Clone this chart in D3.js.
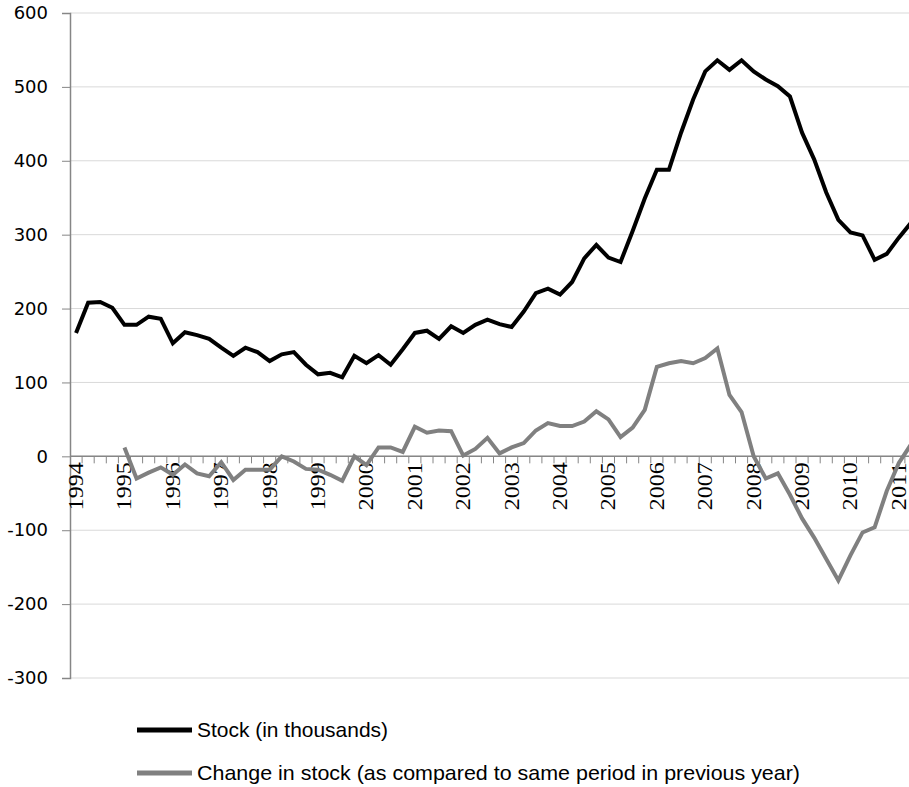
<!DOCTYPE html>
<html lang="en">
<head>
<meta charset="UTF-8">
<title>Stock and change in stock</title>
<script src="https://d3js.org/d3.v7.min.js"></script>
<style>
  body { margin: 0; background: #ffffff; }
  .grid line { stroke: #d9d9d9; stroke-width: 1; }
  .y-axis text { font-family: "DejaVu Sans", sans-serif; font-size: 18px; fill: #000; }
  .x-axis text { font-family: "Liberation Serif", serif; font-size: 20px; fill: #000; }
  .legend text { font-family: "Liberation Sans", sans-serif; font-size: 21px; fill: #000; }
  .line { fill: none; stroke-width: 4; stroke-linejoin: miter; }
</style>
</head>
<body>
<div id="chart"></div>
<script>
// quarterly data, 1994 Q1 .. 2011 Q2
const years = [1994, 1995, 1996, 1997, 1998, 1999, 2000, 2001, 2002,
               2003, 2004, 2005, 2006, 2007, 2008, 2009, 2010, 2011];
const quarters = ["Q1", "Q2", "Q3", "Q4"];

const stock = [
  167, 208, 209, 201, 178, 178, 189, 186, 153, 168,
  164, 159, 147, 136, 147, 141, 129, 138, 141, 124,
  111, 113, 107, 136, 126, 137, 124, 145, 167, 170,
  159, 176, 167, 178, 185, 179, 175, 196, 221, 227,
  219, 236, 268, 286, 269, 263, 305, 349, 388, 388,
  438, 483, 521, 536, 523, 536, 521, 510, 501, 487,
  438, 402, 357, 320, 303, 299, 266, 274, 296, 316
];

// change vs same quarter of previous year (starts 1995 Q1)
const change = [
  null, null, null, null, 12, -30, -22, -15, -25, -11,
  -23, -27, -8, -32, -18, -18, -18, 0, -7, -17,
  -18, -25, -33, 0, -12, 12, 12, 6, 40, 32,
  35, 34, 1, 10, 25, 4, 12, 18, 35, 45,
  41, 41, 47, 61, 50, 26, 39, 63, 121, 126,
  129, 126, 133, 146, 83, 60, 0, -30, -23, -52,
  -84, -110, -139, -168, -134, -103, -96, -47, -9, 16
];

const yTicks = [-300, -200, -100, 0, 100, 200, 300, 400, 500, 600];
const seriesNames = ["Stock (in thousands)",
                     "Change in stock (as compared to same period in previous year)"];
const seriesColors = ["#000000", "#808080"];

const categories = [];
years.forEach(yr => quarters.forEach(q => categories.push(yr + " " + q)));
const cats = categories.slice(0, stock.length);

const W = 909, H = 787;
const margin = { left: 70, top: 13, bottom: 678 };
const step = 12.1;

const svg = d3.select("#chart").append("svg")
  .attr("width", W)
  .attr("height", H);

const x = d3.scaleBand()
  .domain(cats)
  .range([margin.left, margin.left + step * cats.length])
  .padding(0);

const y = d3.scaleLinear()
  .domain([-300, 600])
  .range([margin.bottom, margin.top]);

const cx = d => x(d) + x.bandwidth() / 2;

// gridlines
svg.append("g")
  .attr("class", "grid")
  .selectAll("line")
  .data(yTicks)
  .join("line")
  .attr("x1", margin.left).attr("x2", W)
  .attr("y1", d => y(d)).attr("y2", d => y(d));

// y axis (plain hyphen for negatives, like the original)
const yAxis = svg.append("g")
  .attr("class", "y-axis")
  .attr("transform", `translate(${margin.left},0)`)
  .call(d3.axisLeft(y).tickValues(yTicks).tickSize(8).tickPadding(14)
    .tickFormat(d => String(d)));
yAxis.select(".domain").attr("stroke", "#868686").attr("stroke-width", 1.5);
yAxis.selectAll(".tick line").attr("stroke", "#868686");

// x axis at zero, ticks between quarters, label every year
const xAxis = svg.append("g")
  .attr("class", "x-axis")
  .attr("transform", `translate(0,${y(0)})`);

xAxis.append("line")
  .attr("x1", margin.left).attr("x2", W)
  .attr("stroke", "#868686").attr("stroke-width", 1.5);

xAxis.selectAll(".qtick")
  .data(cats)
  .join("line")
  .attr("class", "qtick")
  .attr("x1", d => x(d) + x.bandwidth()).attr("x2", d => x(d) + x.bandwidth())
  .attr("y1", 0).attr("y2", 7)
  .attr("stroke", "#868686");

xAxis.selectAll(".ylabel")
  .data(cats.filter(d => d.endsWith("Q1")))
  .join("text")
  .attr("class", "ylabel")
  .attr("transform", d => `translate(${cx(d) + 7},6) rotate(-90)`)
  .attr("text-anchor", "end")
  .attr("textLength", 48)
  .attr("lengthAdjust", "spacingAndGlyphs")
  .text(d => d.slice(0, 4));

// lines
const stockLine = d3.line()
  .x((d, i) => cx(cats[i]))
  .y(d => y(d));

const changeLine = d3.line()
  .defined(d => d !== null)
  .x((d, i) => cx(cats[i]))
  .y(d => y(d));

svg.append("defs").append("clipPath").attr("id", "clip")
  .append("rect").attr("x", margin.left).attr("y", 0)
  .attr("width", W - margin.left).attr("height", H);

svg.append("path")
  .attr("class", "line")
  .attr("clip-path", "url(#clip)")
  .attr("stroke", seriesColors[1])
  .attr("d", changeLine(change));

svg.append("path")
  .attr("class", "line")
  .attr("clip-path", "url(#clip)")
  .attr("stroke", seriesColors[0])
  .attr("d", stockLine(stock));

// legend
const legend = svg.append("g").attr("class", "legend");
const legendY = [730, 773];
const legendW = [191, 603];
seriesNames.forEach((name, i) => {
  legend.append("line")
    .attr("x1", 137).attr("x2", 192)
    .attr("y1", legendY[i]).attr("y2", legendY[i])
    .attr("stroke", seriesColors[i])
    .attr("stroke-width", 5);
  legend.append("text")
    .attr("x", 197)
    .attr("y", legendY[i] + 7)
    .attr("textLength", legendW[i])
    .attr("lengthAdjust", "spacingAndGlyphs")
    .text(name);
});
</script>
</body>
</html>
